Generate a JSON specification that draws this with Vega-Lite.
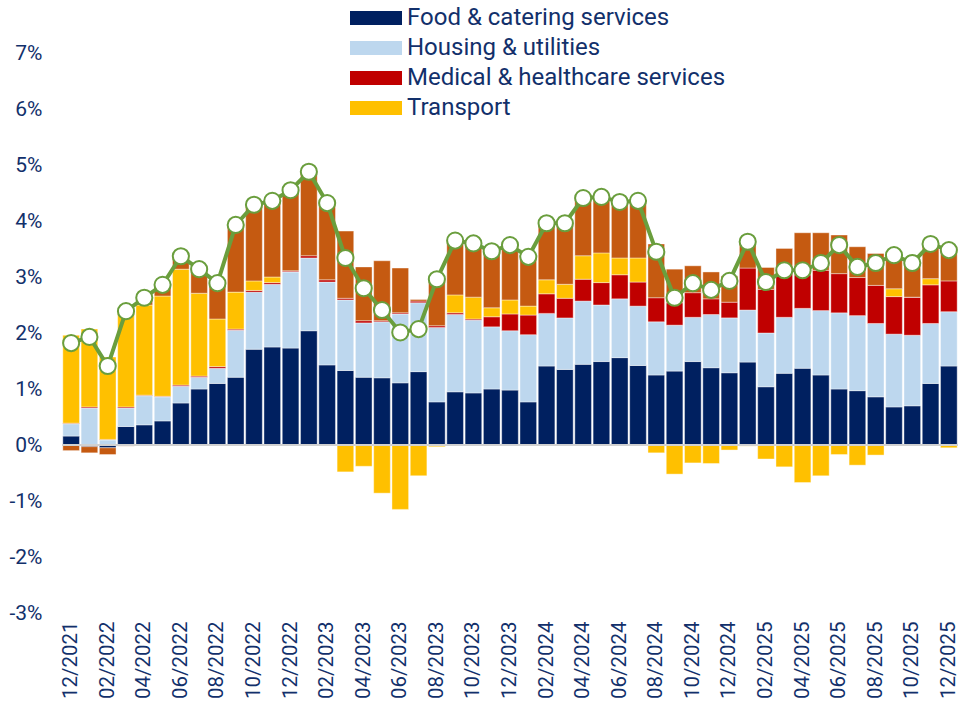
{
  "$schema": "https://vega.github.io/schema/vega-lite/v6.json",
  "autosize": {"type": "none"},
  "width": 896,
  "height": 560,
  "padding": {"left": 62, "top": 53, "right": 1, "bottom": 97},
  "background": "white",
  "config": {"view": {"stroke": null}, "font": "Roboto"},
  "datasets": {
    "m": [
      {"d": "12/2021", "Food & catering services": 0.16, "Housing & utilities": 0.22, "Medical & healthcare services": 0.01, "Transport": 1.57, "Unlisted": -0.10, "total": 1.82},
      {"d": "01/2022", "Food & catering services": -0.03, "Housing & utilities": 0.66, "Medical & healthcare services": 0.02, "Transport": 1.39, "Unlisted": -0.11, "total": 1.93},
      {"d": "02/2022", "Food & catering services": -0.05, "Housing & utilities": 0.09, "Medical & healthcare services": 0.01, "Transport": 1.47, "Unlisted": -0.12, "total": 1.41},
      {"d": "03/2022", "Food & catering services": 0.33, "Housing & utilities": 0.33, "Medical & healthcare services": 0.02, "Transport": 1.73, "Unlisted": -0.02, "total": 2.39},
      {"d": "04/2022", "Food & catering services": 0.36, "Housing & utilities": 0.52, "Medical & healthcare services": 0.01, "Transport": 1.61, "Unlisted": 0.12, "total": 2.63},
      {"d": "05/2022", "Food & catering services": 0.43, "Housing & utilities": 0.43, "Medical & healthcare services": 0.01, "Transport": 1.79, "Unlisted": 0.18, "total": 2.86},
      {"d": "06/2022", "Food & catering services": 0.75, "Housing & utilities": 0.30, "Medical & healthcare services": 0.02, "Transport": 2.07, "Unlisted": 0.22, "total": 3.37},
      {"d": "07/2022", "Food & catering services": 1.00, "Housing & utilities": 0.21, "Medical & healthcare services": 0.02, "Transport": 1.48, "Unlisted": 0.45, "total": 3.14},
      {"d": "08/2022", "Food & catering services": 1.10, "Housing & utilities": 0.27, "Medical & healthcare services": 0.03, "Transport": 0.85, "Unlisted": 0.63, "total": 2.89},
      {"d": "09/2022", "Food & catering services": 1.21, "Housing & utilities": 0.84, "Medical & healthcare services": 0.02, "Transport": 0.66, "Unlisted": 1.20, "total": 3.93},
      {"d": "10/2022", "Food & catering services": 1.71, "Housing & utilities": 1.02, "Medical & healthcare services": 0.03, "Transport": 0.17, "Unlisted": 1.37, "total": 4.29},
      {"d": "11/2022", "Food & catering services": 1.75, "Housing & utilities": 1.12, "Medical & healthcare services": 0.03, "Transport": 0.10, "Unlisted": 1.36, "total": 4.36},
      {"d": "12/2022", "Food & catering services": 1.73, "Housing & utilities": 1.36, "Medical & healthcare services": 0.02, "Transport": 0.00, "Unlisted": 1.44, "total": 4.55},
      {"d": "01/2023", "Food & catering services": 2.04, "Housing & utilities": 1.30, "Medical & healthcare services": 0.04, "Transport": -0.01, "Unlisted": 1.50, "total": 4.88},
      {"d": "02/2023", "Food & catering services": 1.43, "Housing & utilities": 1.48, "Medical & healthcare services": 0.04, "Transport": -0.02, "Unlisted": 1.37, "total": 4.32},
      {"d": "03/2023", "Food & catering services": 1.33, "Housing & utilities": 1.26, "Medical & healthcare services": 0.03, "Transport": -0.48, "Unlisted": 1.20, "total": 3.34},
      {"d": "04/2023", "Food & catering services": 1.21, "Housing & utilities": 0.97, "Medical & healthcare services": 0.04, "Transport": -0.38, "Unlisted": 0.96, "total": 2.80},
      {"d": "05/2023", "Food & catering services": 1.20, "Housing & utilities": 1.00, "Medical & healthcare services": 0.02, "Transport": -0.86, "Unlisted": 1.07, "total": 2.41},
      {"d": "06/2023", "Food & catering services": 1.11, "Housing & utilities": 1.23, "Medical & healthcare services": 0.02, "Transport": -1.15, "Unlisted": 0.80, "total": 2.01},
      {"d": "07/2023", "Food & catering services": 1.31, "Housing & utilities": 1.23, "Medical & healthcare services": 0.03, "Transport": -0.55, "Unlisted": 0.03, "total": 2.07},
      {"d": "08/2023", "Food & catering services": 0.77, "Housing & utilities": 1.33, "Medical & healthcare services": 0.03, "Transport": -0.03, "Unlisted": 0.85, "total": 2.96},
      {"d": "09/2023", "Food & catering services": 0.95, "Housing & utilities": 1.38, "Medical & healthcare services": 0.03, "Transport": 0.32, "Unlisted": 0.96, "total": 3.65},
      {"d": "10/2023", "Food & catering services": 0.93, "Housing & utilities": 1.30, "Medical & healthcare services": 0.02, "Transport": 0.39, "Unlisted": 0.96, "total": 3.60},
      {"d": "11/2023", "Food & catering services": 1.00, "Housing & utilities": 1.11, "Medical & healthcare services": 0.18, "Transport": 0.16, "Unlisted": 1.02, "total": 3.46},
      {"d": "12/2023", "Food & catering services": 0.98, "Housing & utilities": 1.06, "Medical & healthcare services": 0.30, "Transport": 0.25, "Unlisted": 0.98, "total": 3.57},
      {"d": "01/2024", "Food & catering services": 0.77, "Housing & utilities": 1.20, "Medical & healthcare services": 0.35, "Transport": 0.16, "Unlisted": 0.88, "total": 3.36},
      {"d": "02/2024", "Food & catering services": 1.41, "Housing & utilities": 0.94, "Medical & healthcare services": 0.35, "Transport": 0.25, "Unlisted": 1.03, "total": 3.96},
      {"d": "03/2024", "Food & catering services": 1.35, "Housing & utilities": 0.92, "Medical & healthcare services": 0.35, "Transport": 0.25, "Unlisted": 1.09, "total": 3.96},
      {"d": "04/2024", "Food & catering services": 1.44, "Housing & utilities": 1.13, "Medical & healthcare services": 0.39, "Transport": 0.42, "Unlisted": 1.03, "total": 4.41},
      {"d": "05/2024", "Food & catering services": 1.49, "Housing & utilities": 1.01, "Medical & healthcare services": 0.40, "Transport": 0.53, "Unlisted": 1.00, "total": 4.43},
      {"d": "06/2024", "Food & catering services": 1.56, "Housing & utilities": 1.05, "Medical & healthcare services": 0.43, "Transport": 0.30, "Unlisted": 1.00, "total": 4.34},
      {"d": "07/2024", "Food & catering services": 1.42, "Housing & utilities": 1.06, "Medical & healthcare services": 0.43, "Transport": 0.43, "Unlisted": 1.02, "total": 4.36},
      {"d": "08/2024", "Food & catering services": 1.25, "Housing & utilities": 0.95, "Medical & healthcare services": 0.43, "Transport": -0.14, "Unlisted": 0.96, "total": 3.45},
      {"d": "09/2024", "Food & catering services": 1.32, "Housing & utilities": 0.82, "Medical & healthcare services": 0.40, "Transport": -0.52, "Unlisted": 0.60, "total": 2.63},
      {"d": "10/2024", "Food & catering services": 1.49, "Housing & utilities": 0.79, "Medical & healthcare services": 0.44, "Transport": -0.32, "Unlisted": 0.48, "total": 2.89},
      {"d": "11/2024", "Food & catering services": 1.38, "Housing & utilities": 0.95, "Medical & healthcare services": 0.28, "Transport": -0.33, "Unlisted": 0.48, "total": 2.77},
      {"d": "12/2024", "Food & catering services": 1.29, "Housing & utilities": 0.98, "Medical & healthcare services": 0.28, "Transport": -0.09, "Unlisted": 0.47, "total": 2.93},
      {"d": "01/2025", "Food & catering services": 1.48, "Housing & utilities": 0.93, "Medical & healthcare services": 0.75, "Transport": -0.02, "Unlisted": 0.47, "total": 3.63},
      {"d": "02/2025", "Food & catering services": 1.04, "Housing & utilities": 0.96, "Medical & healthcare services": 0.78, "Transport": -0.25, "Unlisted": 0.39, "total": 2.91},
      {"d": "03/2025", "Food & catering services": 1.28, "Housing & utilities": 1.00, "Medical & healthcare services": 0.78, "Transport": -0.39, "Unlisted": 0.45, "total": 3.12},
      {"d": "04/2025", "Food & catering services": 1.37, "Housing & utilities": 1.07, "Medical & healthcare services": 0.60, "Transport": -0.67, "Unlisted": 0.75, "total": 3.12},
      {"d": "05/2025", "Food & catering services": 1.25, "Housing & utilities": 1.15, "Medical & healthcare services": 0.72, "Transport": -0.55, "Unlisted": 0.67, "total": 3.25},
      {"d": "06/2025", "Food & catering services": 1.00, "Housing & utilities": 1.36, "Medical & healthcare services": 0.70, "Transport": -0.17, "Unlisted": 0.69, "total": 3.57},
      {"d": "07/2025", "Food & catering services": 0.97, "Housing & utilities": 1.34, "Medical & healthcare services": 0.68, "Transport": -0.36, "Unlisted": 0.55, "total": 3.18},
      {"d": "08/2025", "Food & catering services": 0.86, "Housing & utilities": 1.31, "Medical & healthcare services": 0.68, "Transport": -0.18, "Unlisted": 0.57, "total": 3.25},
      {"d": "09/2025", "Food & catering services": 0.68, "Housing & utilities": 1.30, "Medical & healthcare services": 0.67, "Transport": 0.14, "Unlisted": 0.60, "total": 3.39},
      {"d": "10/2025", "Food & catering services": 0.70, "Housing & utilities": 1.26, "Medical & healthcare services": 0.68, "Transport": 0.00, "Unlisted": 0.61, "total": 3.25},
      {"d": "11/2025", "Food & catering services": 1.10, "Housing & utilities": 1.07, "Medical & healthcare services": 0.69, "Transport": 0.11, "Unlisted": 0.62, "total": 3.59},
      {"d": "12/2025", "Food & catering services": 1.41, "Housing & utilities": 0.97, "Medical & healthcare services": 0.55, "Transport": -0.05, "Unlisted": 0.60, "total": 3.48}
    ]
  },
  "data": {"name": "m"},
  "layer": [
    {
      "transform": [
        {"fold": ["Food & catering services", "Housing & utilities", "Medical & healthcare services", "Transport", "Unlisted"], "as": ["series", "value"]}
      ],
      "mark": {"type": "bar", "stroke": "white", "strokeWidth": 0.5, "strokeOpacity": 0.8},
      "encoding": {
        "x": {
          "field": "d", "type": "ordinal", "sort": null,
          "scale": {"paddingInner": 0.09, "paddingOuter": 0.045},
          "axis": {
            "title": null,
            "values": ["12/2021", "02/2022", "04/2022", "06/2022", "08/2022", "10/2022", "12/2022", "02/2023", "04/2023", "06/2023", "08/2023", "10/2023", "12/2023", "02/2024", "04/2024", "06/2024", "08/2024", "10/2024", "12/2024", "02/2025", "04/2025", "06/2025", "08/2025", "10/2025", "12/2025"],
            "labelAngle": -90,
            "labelFontSize": 20.5,
            "labelColor": "#12306B",
            "labelPadding": 8,
            "labelBound": false,
            "ticks": false,
            "domain": false,
            "grid": false
          }
        },
        "y": {
          "field": "value", "type": "quantitative", "stack": "zero",
          "scale": {"domain": [-3, 7], "nice": false, "zero": false},
          "axis": {
            "title": null,
            "values": [-3, -2, -1, 0, 1, 2, 3, 4, 5, 6, 7],
            "labelExpr": "datum.value + '%'",
            "labelFontSize": 21,
            "labelColor": "#12306B",
            "labelPadding": 20,
            "ticks": false,
            "domain": false,
            "grid": false
          }
        },
        "order": {"field": "series", "type": "nominal", "sort": "ascending"},
        "color": {
          "field": "series", "type": "nominal",
          "scale": {
            "domain": ["Food & catering services", "Housing & utilities", "Medical & healthcare services", "Transport", "Unlisted"],
            "range": ["#002060", "#BDD7EE", "#C00000", "#FFC000", "#C55A11"]
          },
          "legend": {
            "title": null,
            "orient": "none",
            "legendX": 301,
            "legendY": -48,
            "padding": 0,
            "values": ["Food & catering services", "Housing & utilities", "Medical & healthcare services", "Transport"],
            "symbolType": "M-2,-0.54L2,-0.54L2,0.54L-2,0.54Z",
            "symbolSize": 676,
            "symbolStrokeWidth": 0,
            "labelFontSize": 24,
            "labelColor": "#12306B",
            "labelOffset": 18,
            "rowPadding": 5,
            "labelLimit": 500
          }
        }
      }
    },
    {
      "mark": {"type": "rule", "color": "#D0D0D0", "strokeWidth": 1.5},
      "encoding": {"y": {"datum": 0}}
    },
    {
      "mark": {"type": "line", "color": "#6A9E3D", "strokeWidth": 4},
      "encoding": {
        "x": {"field": "d", "type": "ordinal", "sort": null},
        "y": {"field": "total", "type": "quantitative"}
      }
    },
    {
      "mark": {"type": "point", "shape": "circle", "filled": true, "fill": "white", "stroke": "#6A9E3D", "strokeWidth": 2, "size": 260, "opacity": 1},
      "encoding": {
        "x": {"field": "d", "type": "ordinal", "sort": null},
        "y": {"field": "total", "type": "quantitative"}
      }
    }
  ]
}
